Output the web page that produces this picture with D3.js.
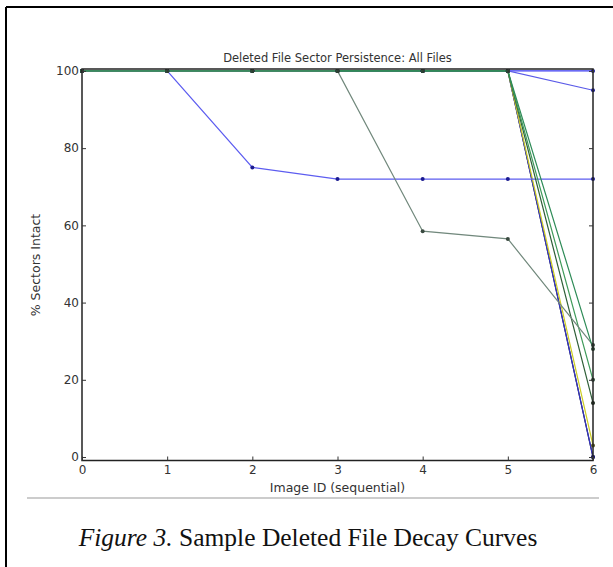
<!DOCTYPE html>
<html>
<head>
<meta charset="utf-8">
<script src="https://cdn.jsdelivr.net/npm/d3@7"></script>
<style>
  body { margin: 0; background: #fff; }
  svg { display: block; }
</style>
</head>
<body>
<svg id="chart" width="613" height="567"></svg>
<script>
// image ids on the x axis
var imageIds = [0, 1, 2, 3, 4, 5, 6];
var yTicks = [0, 20, 40, 60, 80, 100];

// % sectors intact for each sample file
var blueFlat = [100, 100, 100, 100, 100, 100, 100];
var blueSlight = [100, 100, 100, 100, 100, 100, 95];
var blueStep = [100, 100, 75, 72, 72, 72, 72];
var blueDrop = [100, 100, 100, 100, 100, 100, 0];
var yellowDrop = [100, 100, 100, 100, 100, 100, 3];
var blackDrop = [100, 100, 100, 100, 100, 100, 0];
var olive = [100, 100, 100, 100, 100, 100, 14];
var greenA = [100, 100, 100, 100, 100, 100, 20];
var greenB = [100, 100, 100, 100, 100, 100, 28];
var grayTeal = [100, 100, 100, 100, 58.5, 56.5, 29];

// drawing order: later ones sit on top
var series = [
  {values: blackDrop, colour: "#1a1a1a", dot: "#1a1a1a"},
  {values: blueDrop, colour: "#3434c8", dot: "#1a1a80"},
  {values: yellowDrop, colour: "#cccc22", dot: "#555520"},
  {values: blueFlat, colour: "#3a3af2", dot: "#1a1aa0"},
  {values: blueSlight, colour: "#5a5ae8", dot: "#22229a"},
  {values: blueStep, colour: "#5c5cf0", dot: "#1a1a90"},
  {values: olive, colour: "#2f5f38", dot: "#1a2a1a"},
  {values: greenA, colour: "#3f9a5a", dot: "#2a4a34"},
  {values: grayTeal, colour: "#71887c", dot: "#3a4a40"},
  {values: greenB, colour: "#2e8b57", dot: "#2a4a34"}
];

var svg = d3.select("#chart");

// page frame
svg.append("line").attr("x1", 6).attr("y1", 7).attr("x2", 613).attr("y2", 7)
    .attr("stroke", "#000").attr("stroke-width", 2);
svg.append("line").attr("x1", 6).attr("y1", 7).attr("x2", 6).attr("y2", 567)
    .attr("stroke", "#000").attr("stroke-width", 2);

var plot = {left: 82, right: 593, top: 69, bottom: 460.5};

var x = d3.scaleLinear().domain([0, 6]).range([plot.left, plot.right]);
var y = d3.scaleLinear().domain([-0.9, 100.5]).range([plot.bottom, plot.top]);

var g = svg.append("g");

var line = d3.line()
    .x(function(d, i) { return x(imageIds[i]); })
    .y(function(d) { return y(d); });

series.forEach(function(s) {
  g.append("path")
      .datum(s.values)
      .attr("fill", "none")
      .attr("stroke", s.colour)
      .attr("stroke-width", 1.2)
      .attr("d", line);
});

series.forEach(function(s) {
  g.selectAll(null)
      .data(s.values)
      .enter().append("circle")
      .attr("cx", function(d, i) { return x(imageIds[i]); })
      .attr("cy", function(d) { return y(d); })
      .attr("r", 2)
      .attr("fill", s.dot);
});

// frame of the axes
g.append("rect")
    .attr("x", plot.left).attr("y", plot.top)
    .attr("width", plot.right - plot.left).attr("height", plot.bottom - plot.top)
    .attr("fill", "none").attr("stroke", "#222").attr("stroke-width", 1.5);

// axes, ticks pointing inward
var xAxis = g.append("g")
    .attr("transform", "translate(0," + plot.bottom + ")")
    .call(d3.axisBottom(x).tickValues(imageIds).tickFormat(d3.format("d")).tickSize(-4).tickPadding(5));
var xTop = g.append("g")
    .attr("transform", "translate(0," + plot.top + ")")
    .call(d3.axisTop(x).tickValues(imageIds).tickSize(-4).tickFormat(""));
var yAxis = g.append("g")
    .attr("transform", "translate(" + plot.left + ",0)")
    .call(d3.axisLeft(y).tickValues(yTicks).tickSize(-4).tickPadding(3));
var yRight = g.append("g")
    .attr("transform", "translate(" + plot.right + ",0)")
    .call(d3.axisRight(y).tickValues(yTicks).tickSize(-4).tickFormat(""));

[xAxis, xTop, yAxis, yRight].forEach(function(a) {
  a.select(".domain").remove();
  a.selectAll(".tick line").attr("stroke", "#333");
  a.selectAll("text")
      .style("font-family", "DejaVu Sans")
      .style("font-size", "12px")
      .attr("fill", "#333");
});

svg.append("text")
    .attr("x", 337.5).attr("y", 62)
    .attr("text-anchor", "middle")
    .style("font-family", "DejaVu Sans")
    .style("font-size", "11.5px")
    .attr("fill", "#333")
    .text("Deleted File Sector Persistence: All Files");

svg.append("text")
    .attr("x", 337.5).attr("y", 492)
    .attr("text-anchor", "middle")
    .style("font-family", "DejaVu Sans")
    .style("font-size", "12.5px")
    .attr("fill", "#333")
    .text("Image ID (sequential)");

svg.append("text")
    .attr("transform", "translate(40,265) rotate(-90)")
    .attr("text-anchor", "middle")
    .style("font-family", "DejaVu Sans")
    .style("font-size", "12.5px")
    .attr("fill", "#333")
    .text("% Sectors Intact");

// separator under the figure
svg.append("line")
    .attr("x1", 27).attr("y1", 498).attr("x2", 599).attr("y2", 498)
    .attr("stroke", "#bbb").attr("stroke-width", 1.5);

var caption = svg.append("text")
    .attr("x", 308).attr("y", 546)
    .attr("text-anchor", "middle")
    .style("font-family", "Liberation Serif")
    .style("font-size", "25.5px")
    .attr("fill", "#111");
caption.append("tspan").style("font-style", "italic").text("Figure 3.");
caption.append("tspan").text(" Sample Deleted File Decay Curves");
</script>
</body>
</html>
